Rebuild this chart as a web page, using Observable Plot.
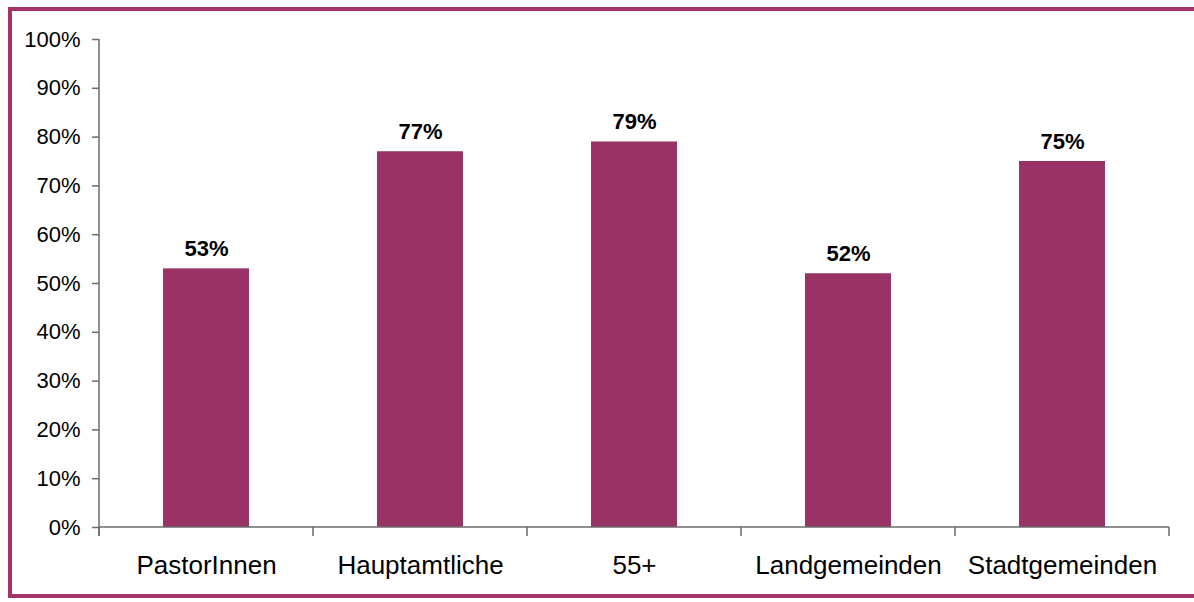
<!DOCTYPE html>
<html>
<head>
<meta charset="utf-8">
<script src="https://cdn.jsdelivr.net/npm/d3@7"></script>
<script src="https://cdn.jsdelivr.net/npm/@observablehq/plot@0.6"></script>
<style>
  html, body { margin: 0; padding: 0; background: #fff; }
  #wrap { position: relative; width: 1194px; height: 602px; overflow: hidden; }
  #frame { position: absolute; left: 8px; top: 7px; width: 1200px; height: 591px;
           box-sizing: border-box; border: 4px solid #a4346a; pointer-events: none; }
  svg { font-family: "Liberation Sans", Arial, sans-serif; }
</style>
</head>
<body>
<div id="wrap"><div id="frame"></div></div>
<script>
const categories = ["PastorInnen", "Hauptamtliche", "55+", "Landgemeinden", "Stadtgemeinden"];
const values = [0.53, 0.77, 0.79, 0.52, 0.75];
const yTicks = [0, 0.1, 0.2, 0.3, 0.4, 0.5, 0.6, 0.7, 0.8, 0.9, 1.0];

const data = categories.map((c, i) => ({category: c, value: values[i]}));
const axisColor = "#6b6b6b";
const paddingInner = 0.6, paddingOuter = 0.3;

// category boundary ticks + axis lines drawn via scales
function axisLines(index, scales, values, dims) {
  const x = scales.x, y = scales.y;
  const step = x(categories[1]) - x(categories[0]);
  let bw = x.bandwidth;
  if (typeof bw === "function") bw = bw();
  if (!(bw > 0) && scales.scales && scales.scales.x) bw = scales.scales.x.bandwidth;
  if (!(bw > 0)) bw = step * (1 - paddingInner);
  const gap = (step - bw) / 2;
  const bounds = categories.map(c => x(c) - gap);
  bounds.push(x(categories[categories.length - 1]) + bw + gap);
  const y0 = y(0);
  const g = d3.create("svg:g").attr("stroke", axisColor).attr("stroke-width", 1.5).attr("fill", "none");
  g.append("line").attr("x1", bounds[0]).attr("x2", bounds[bounds.length - 1])
    .attr("y1", y0).attr("y2", y0);
  for (const b of bounds) {
    g.append("line").attr("x1", b).attr("x2", b).attr("y1", y0).attr("y2", y0 + 9);
  }
  g.append("line").attr("x1", bounds[0]).attr("x2", bounds[0])
    .attr("y1", y(1)).attr("y2", y0 + 9);
  return g.node();
}

const chart = Plot.plot({
  width: 1194,
  height: 602,
  marginLeft: 99,
  marginRight: 25,
  marginTop: 39,
  marginBottom: 75,
  style: {fontFamily: "Liberation Sans, Arial, sans-serif", background: "transparent"},
  x: {domain: categories, paddingInner, paddingOuter, label: null},
  y: {domain: [0, 1], label: null},
  marks: [
    Plot.barY(data, {x: "category", y: "value", fill: "#993366"}),
    Plot.axisY({ticks: yTicks, tickFormat: d3.format(".0%"), tickSize: 7, tickPadding: 12,
      fontSize: 22, stroke: axisColor, strokeWidth: 1.5, strokeOpacity: 1, color: "#000", label: null}),
    Plot.axisX({tickSize: 0, tickPadding: 28, fontSize: 26, color: "#000", label: null}),
    axisLines,
    Plot.text(data, {x: "category", y: "value", text: d => Math.round(d.value * 100) + "%",
      dy: -13, lineAnchor: "bottom", fontSize: 22, fontWeight: "bold", fill: "#000"})
  ]
});
chart.style.position = "absolute";
chart.style.left = "0px";
chart.style.top = "0px";
document.getElementById("wrap").appendChild(chart);
</script>
</body>
</html>
